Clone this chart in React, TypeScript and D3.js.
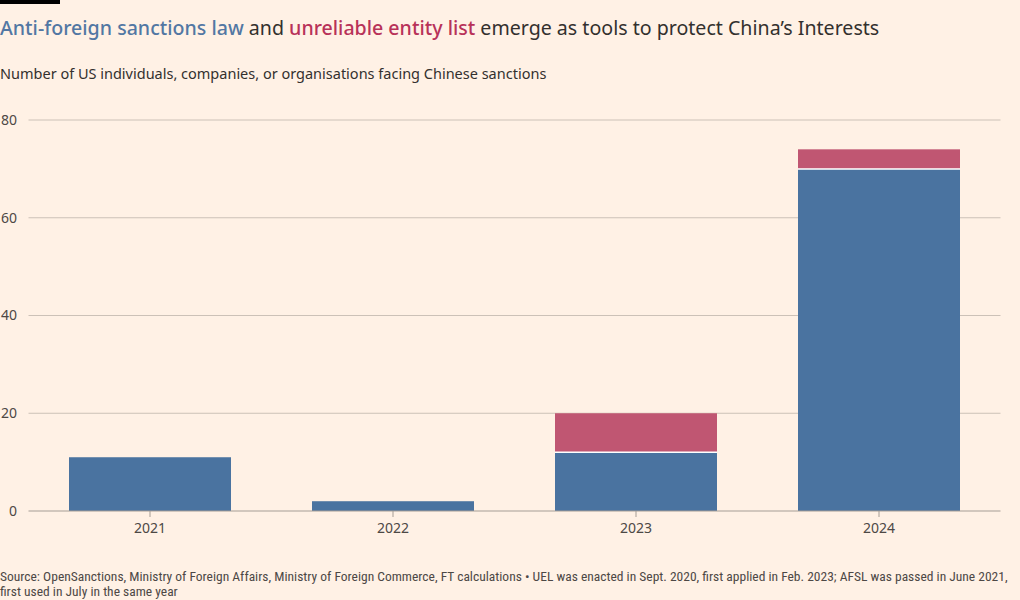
import { useEffect, useRef } from 'react';
import * as d3 from 'd3';

const years = ['2021', '2022', '2023', '2024'];
const antiForeignSanctions = [11, 2, 12, 70];
const unreliableEntity = [0, 0, 8, 4];
const yTicks = [0, 20, 40, 60, 80];

const BG = '#fff1e5';
const BLUE = '#4a73a0';
const RED = '#c05672';
const FONT = "'Noto Sans', 'Open Sans', sans-serif";
const NARROW = "'Liberation Sans Narrow', 'Roboto Condensed', 'Noto Sans', sans-serif";

export default function App() {
  const ref = useRef<SVGSVGElement | null>(null);

  useEffect(() => {
    if (!ref.current) return;
    const svg = d3.select(ref.current);
    svg.selectAll('*').remove();
    const width = 1020;
    const height = 600;

    svg.append('rect').attr('width', width).attr('height', height).attr('fill', BG);
    svg.append('rect').attr('width', 60).attr('height', 4).attr('fill', '#000');

    const title = svg
      .append('text')
      .attr('x', 0)
      .attr('y', 35)
      .style('font-family', FONT)
      .style('font-size', '19.6px')
      .attr('fill', '#33302e');
    title.append('tspan').attr('fill', '#5277a3').attr('font-weight', 500).text('Anti-foreign sanctions law');
    title.append('tspan').text(' and ');
    title.append('tspan').attr('fill', '#b83259').attr('font-weight', 500).text('unreliable entity list');
    title.append('tspan').text(' emerge as tools to protect China\u2019s Interests');

    svg
      .append('text')
      .attr('x', 0)
      .attr('y', 79)
      .style('font-family', FONT)
      .style('font-size', '14.5px')
      .attr('fill', '#33302e')
      .text('Number of US individuals, companies, or organisations facing Chinese sanctions');

    const left = 28.5;
    const right = 1000.5;
    const x = d3.scaleBand().domain(years).range([left, right]).paddingInner(1 / 3).paddingOuter(1 / 6);
    const y = d3.scaleLinear().domain([0, 80]).range([511, 120]);

    const grid = svg.append('g');
    yTicks.forEach((t) => {
      if (t > 0) {
        grid
          .append('line')
          .attr('x1', left)
          .attr('x2', right)
          .attr('y1', y(t))
          .attr('y2', y(t))
          .attr('stroke', '#ccc1b7')
          .attr('stroke-width', 1);
      }
      grid
        .append('text')
        .attr('x', 17)
        .attr('y', y(t))
        .attr('dy', '0.35em')
        .attr('text-anchor', 'end')
        .style('font-family', FONT)
        .style('font-size', '14px')
        .attr('fill', '#4d4845')
        .text(t);
    });

    const bars = svg.append('g');
    years.forEach((yr, i) => {
      const x0 = x(yr) || 0;
      const a = antiForeignSanctions[i];
      const u = unreliableEntity[i];
      bars
        .append('rect')
        .attr('x', x0)
        .attr('width', x.bandwidth())
        .attr('y', y(a))
        .attr('height', y(0) - y(a))
        .attr('fill', BLUE);
      if (u > 0) {
        bars
          .append('rect')
          .attr('x', x0)
          .attr('width', x.bandwidth())
          .attr('y', y(a + u))
          .attr('height', y(a) - y(a + u))
          .attr('fill', RED);
        bars
          .append('line')
          .attr('x1', x0)
          .attr('x2', x0 + x.bandwidth())
          .attr('y1', y(a))
          .attr('y2', y(a))
          .attr('stroke', '#ffffff')
          .attr('stroke-width', 1.5);
      }
    });

    const axis = svg.append('g');
    axis
      .append('line')
      .attr('x1', left)
      .attr('x2', right)
      .attr('y1', y(0))
      .attr('y2', y(0))
      .attr('stroke', '#a59d95')
      .attr('stroke-width', 1);
    years.forEach((yr) => {
      const cx = (x(yr) || 0) + x.bandwidth() / 2;
      axis
        .append('line')
        .attr('x1', cx)
        .attr('x2', cx)
        .attr('y1', y(0))
        .attr('y2', y(0) + 6)
        .attr('stroke', '#a59d95');
      axis
        .append('text')
        .attr('x', cx)
        .attr('y', 533)
        .attr('text-anchor', 'middle')
        .style('font-family', FONT)
        .style('font-size', '14px')
        .attr('fill', '#4d4845')
        .text(yr);
    });

    const src = svg
      .append('text')
      .style('font-family', NARROW)
      .style('font-size', '13.5px')
      .attr('fill', '#4d4845');
    src
      .append('tspan')
      .attr('x', 0)
      .attr('y', 581)
      .text(
        'Source: OpenSanctions, Ministry of Foreign Affairs, Ministry of Foreign Commerce, FT calculations \u2022 UEL was enacted in Sept. 2020, first applied in Feb. 2023; AFSL was passed in June 2021,'
      );
    src.append('tspan').attr('x', 0).attr('y', 596).text('first used in July in the same year');
  }, []);

  return (
    <svg
      ref={ref}
      width={1020}
      height={600}
      style={{ position: 'absolute', left: 0, top: 0, display: 'block' }}
    />
  );
}
